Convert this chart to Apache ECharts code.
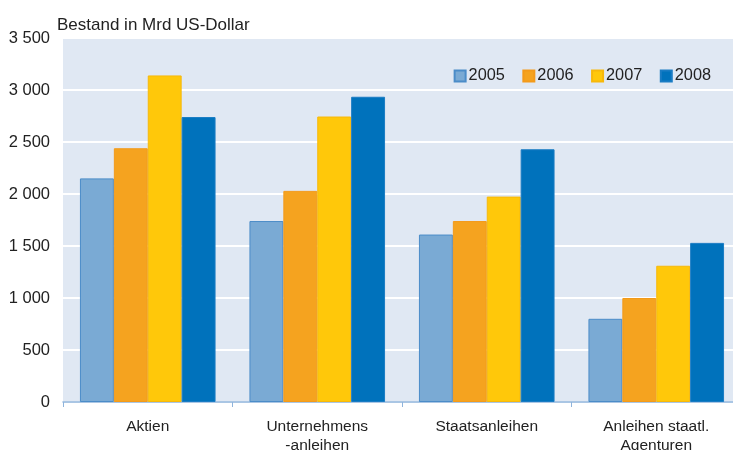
<!DOCTYPE html>
<html><head><meta charset="utf-8">
<script src="https://cdn.jsdelivr.net/npm/echarts@6/dist/echarts.min.js"></script>
<style>html,body{margin:0;padding:0;background:#fff}#c{width:733px;height:450px}</style>
</head><body><div id="c"></div>
<script>
const categories = ['Aktien', 'Unternehmens\n-anleihen', 'Staatsanleihen', 'Anleihen staatl.\nAgenturen'];
const years = ['2005', '2006', '2007', '2008'];
const v2005 = [2150, 1740, 1610, 800];
const v2006 = [2440, 2030, 1740, 1000];
const v2007 = [3140, 2745, 1975, 1310];
const v2008 = [2740, 2935, 2430, 1530];
const yTicks = [0, 500, 1000, 1500, 2000, 2500, 3000, 3500];

const colors = ['#7aaad4', '#f5a31f', '#ffc80a', '#0072bc'];
const borders = ['#4b8cc8', '#f39a1a', '#f7b80a', '#1a7cc4'];
const values = [v2005, v2006, v2007, v2008];
const fmt = v => String(v).replace(/\B(?=(\d{3})+(?!\d))/g, ' ');

const chart = echarts.init(document.getElementById('c'), null, {renderer: 'canvas'});
chart.setOption({
  backgroundColor: '#fff',
  textStyle: {fontFamily: 'Liberation Sans, Arial, sans-serif'},
  title: {text: 'Bestand in Mrd US-Dollar', left: 52, top: 12,
    textStyle: {fontSize: 17, fontWeight: 'normal', color: '#222', fontFamily: 'Liberation Sans'}},
  legend: {data: years, right: 17, top: 63, itemWidth: 11, itemHeight: 11, itemGap: 17.5,
    icon: 'rect', textStyle: {fontSize: 16.3, color: '#222', fontFamily: 'Liberation Sans', padding: [0,0,0,-2]}},
  grid: {left: 63, width: 678, top: 38, bottom: 48, show: true, backgroundColor: '#e0e8f3', borderWidth: 0,
    outerBoundsMode: 'none', containLabel: false},
  xAxis: {type: 'category', data: categories,
    axisLine: {lineStyle: {color: '#8fb4dc', width: 1.5}},
    axisTick: {show: true, length: 5, lineStyle: {color: '#8fb4dc'}},
    axisLabel: {fontSize: 15.5, color: '#222', margin: 15, lineHeight: 19, fontFamily: 'Liberation Sans'}},
  yAxis: {type: 'value', min: 0, max: 3500, interval: 500,
    axisLine: {show: false}, axisTick: {show: false},
    splitLine: {lineStyle: {color: '#ffffff', width: 2}},
    axisLabel: {fontSize: 16.5, color: '#222', margin: 13, formatter: v => yTicks.includes(v) ? fmt(v) : '', fontFamily: 'Liberation Sans'}},
  series: years.map((y, i) => ({
    name: y, type: 'bar', data: values[i], barGap: '0%', barCategoryGap: '20%',
    itemStyle: {color: colors[i], borderColor: borders[i], borderWidth: 1}
  }))
});
</script></body></html>
